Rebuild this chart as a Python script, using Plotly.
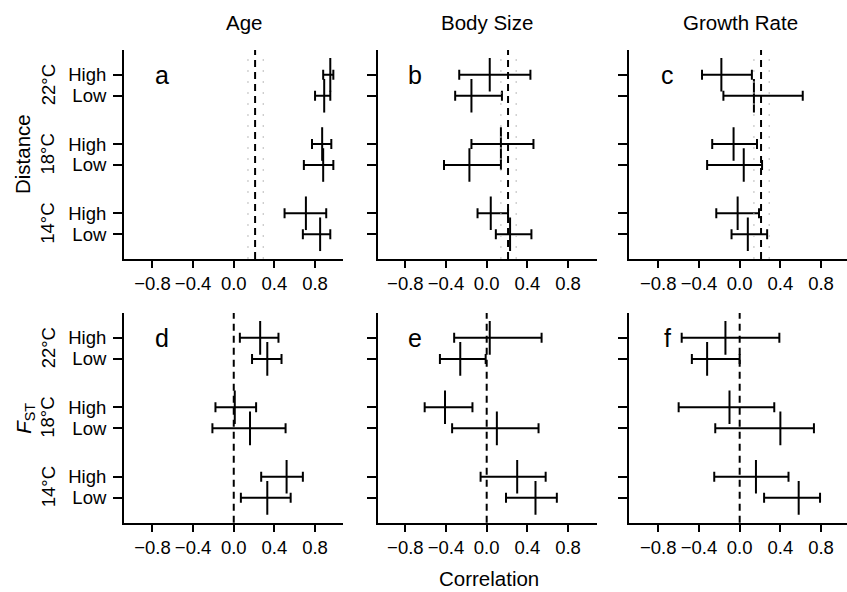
import plotly.graph_objects as go

# ---------------- data ----------------
groups = ["22°C", "18°C", "14°C"]
levels = ["High", "Low"]
traits = ["Age", "Body Size", "Growth Rate"]
row_labels = ["Distance", "<i>F</i><sub>ST</sub>"]
panel_letters = ["a", "b", "c", "d", "e", "f"]
x_ticks = [-0.8, -0.4, 0.0, 0.4, 0.8]

# order: High 22, Low 22, High 18, Low 18, High 14, Low 14
age_dist_est = [0.95, 0.89, 0.87, 0.88, 0.71, 0.85]
age_dist_lo = [0.88, 0.80, 0.77, 0.69, 0.50, 0.68]
age_dist_hi = [0.98, 0.95, 0.96, 0.98, 0.91, 0.95]

body_dist_est = [0.03, -0.15, 0.14, -0.17, 0.04, 0.23]
body_dist_lo = [-0.27, -0.31, -0.15, -0.42, -0.09, 0.09]
body_dist_hi = [0.43, 0.15, 0.46, 0.14, 0.21, 0.44]

growth_dist_est = [-0.18, 0.14, -0.06, 0.04, -0.02, 0.08]
growth_dist_lo = [-0.37, -0.16, -0.27, -0.32, -0.23, -0.08]
growth_dist_hi = [0.12, 0.62, 0.17, 0.22, 0.19, 0.27]

age_fst_est = [0.26, 0.33, 0.01, 0.16, 0.52, 0.33]
age_fst_lo = [0.06, 0.18, -0.18, -0.21, 0.27, 0.07]
age_fst_hi = [0.44, 0.47, 0.22, 0.51, 0.68, 0.56]

body_fst_est = [0.03, -0.26, -0.41, 0.10, 0.30, 0.48]
body_fst_lo = [-0.32, -0.46, -0.61, -0.34, -0.06, 0.19]
body_fst_hi = [0.54, -0.01, -0.14, 0.51, 0.58, 0.69]

growth_fst_est = [-0.14, -0.32, -0.10, 0.40, 0.16, 0.58]
growth_fst_lo = [-0.57, -0.47, -0.60, -0.24, -0.25, 0.24]
growth_fst_hi = [0.39, 0.00, 0.34, 0.73, 0.48, 0.79]

dist_null = 0.21
dist_null_lo = 0.14
dist_null_hi = 0.29
fst_null = 0.0

# ---------------- layout helpers ----------------
FONT = "Liberation Sans, Arial, Helvetica, sans-serif"
TICK_SIZE = 18.5
LABEL_SIZE = 20.5
GROUP_STEP = 3.3
ypos = []
for gi in range(len(groups)):
    for li in range(len(levels)):
        ypos.append((len(groups) - 1 - gi) * GROUP_STEP + (len(levels) - 1 - li))
ytext = [lv for g in groups for lv in levels]

panels = [
    (age_dist_est, age_dist_lo, age_dist_hi),
    (body_dist_est, body_dist_lo, body_dist_hi),
    (growth_dist_est, growth_dist_lo, growth_dist_hi),
    (age_fst_est, age_fst_lo, age_fst_hi),
    (body_fst_est, body_fst_lo, body_fst_hi),
    (growth_fst_est, growth_fst_lo, growth_fst_hi),
]

W, H = 847, 592
ML = 124
PW = W - ML
xdomains = [[0.0, 0.3029], [0.3509, 0.6538], [0.6989, 1.0]]
xranges = [[-1.08, 1.075], [-1.072, 1.082], [-1.085, 1.055]]
ydomains = [[0.5625, 0.9155], [0.1171, 0.4713]]
yrange = [-1.18, 8.78]
title_px = [244, 487, 740]

fig = go.Figure()
layout = dict(
    width=W, height=H,
    margin=dict(l=ML, r=0, t=0, b=0, autoexpand=False),
    plot_bgcolor="white", paper_bgcolor="white",
    font=dict(family=FONT, size=TICK_SIZE, color="black"),
    showlegend=False,
)

shapes = []
annotations = []
for i, (est, lo, hi) in enumerate(panels):
    n = i + 1
    r, c = divmod(i, 3)
    xa = "x" if n == 1 else f"x{n}"
    ya = "y" if n == 1 else f"y{n}"
    fig.add_trace(go.Scatter(
        x=est, y=ypos, xaxis=xa, yaxis=ya, mode="markers",
        marker=dict(symbol="line-ns", size=24, color="black",
                    line=dict(width=2, color="black")),
        error_x=dict(type="data", symmetric=False,
                     array=[h - e for h, e in zip(hi, est)],
                     arrayminus=[e - l for e, l in zip(est, lo)],
                     color="black", thickness=2, width=5),
        hoverinfo="skip",
    ))
    layout["xaxis" if n == 1 else f"xaxis{n}"] = dict(
        domain=xdomains[c], anchor=ya, range=xranges[c],
        showline=True, linewidth=2, linecolor="black",
        ticks="outside", ticklen=7, tickwidth=2, tickcolor="black",
        tickvals=x_ticks, tickformat=".1f",
        showgrid=False, zeroline=False, automargin=False,
        tickfont=dict(size=TICK_SIZE),
    )
    layout["yaxis" if n == 1 else f"yaxis{n}"] = dict(
        domain=ydomains[r], anchor=xa, range=yrange,
        showline=True, linewidth=2, linecolor="black",
        ticks="outside", ticklen=9, tickwidth=2, tickcolor="black",
        tickvals=ypos, ticktext=ytext, showticklabels=(c == 0),
        ticklabelstandoff=3,
        showgrid=False, zeroline=False, automargin=False,
        tickfont=dict(size=TICK_SIZE),
    )
    if r == 0:
        for xv in (dist_null_lo, dist_null_hi):
            shapes.append(dict(type="line", xref=xa, yref=f"{ya} domain",
                               x0=xv, x1=xv, y0=0, y1=1,
                               line=dict(color="#bbbbbb", width=1, dash="2px,9px")))
        ref = dist_null
    else:
        ref = fst_null
    shapes.append(dict(type="line", xref=xa, yref=f"{ya} domain",
                       x0=ref, x1=ref, y0=0, y1=1,
                       line=dict(color="black", width=2, dash="7px,5px")))
    annotations.append(dict(text=panel_letters[i], xref=xa, yref=ya,
                            x=-0.71, y=ypos[0], showarrow=False,
                            xanchor="center", yanchor="middle",
                            font=dict(size=25)))

for c, t in enumerate(traits):
    annotations.append(dict(text=t, xref="paper", yref="paper",
                            x=(title_px[c] - ML) / PW, y=1 - 22 / H, showarrow=False,
                            xanchor="center", yanchor="middle",
                            font=dict(size=LABEL_SIZE)))
for r in range(2):
    ya = "y" if r == 0 else "y4"
    for gi, g in enumerate(groups):
        ymid = (ypos[2 * gi] + ypos[2 * gi + 1]) / 2
        annotations.append(dict(text=g, xref="paper", yref=ya,
                                x=(48 - ML) / PW, y=ymid, textangle=-90,
                                showarrow=False, xanchor="center", yanchor="middle",
                                font=dict(size=TICK_SIZE)))
    annotations.append(dict(text=row_labels[r], xref="paper", yref="paper",
                            x=((22.5 if r == 0 else 25) - ML) / PW,
                            y=sum(ydomains[r]) / 2, textangle=-90,
                            showarrow=False, xanchor="center", yanchor="middle",
                            font=dict(size=LABEL_SIZE)))
annotations.append(dict(text="Correlation", xref="paper", yref="paper",
                        x=(489 - ML) / PW, y=1 - 578 / H, showarrow=False,
                        xanchor="center", yanchor="middle",
                        font=dict(size=LABEL_SIZE)))

layout["shapes"] = shapes
layout["annotations"] = annotations
fig.update_layout(**layout)
fig.write_html("out.html", config={"displayModeBar": False},
               post_script="document.body.style.margin='0';document.body.style.padding='0';")
